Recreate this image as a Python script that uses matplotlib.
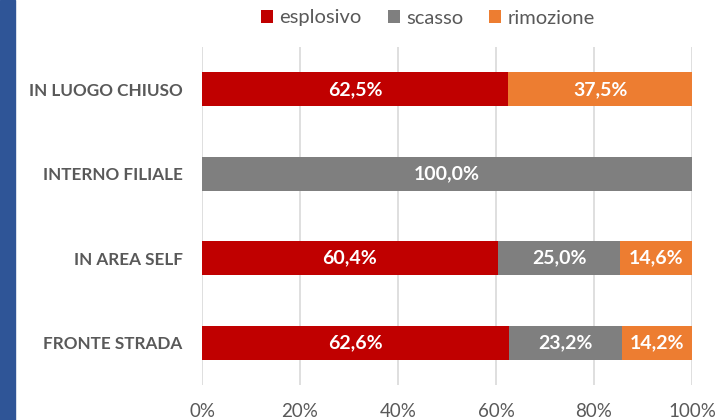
import matplotlib
matplotlib.use('Agg')
import matplotlib.pyplot as plt
from matplotlib.patches import Rectangle
import numpy as np

# Dati
categorie = ['IN LUOGO CHIUSO', 'INTERNO FILIALE', 'IN AREA SELF', 'FRONTE STRADA']
esplosivo = [62.5, 0.0, 60.4, 62.6]
scasso = [0.0, 100.0, 25.0, 23.2]
rimozione = [37.5, 0.0, 14.6, 14.2]
serie_nomi = ['esplosivo', 'scasso', 'rimozione']
colori = ['#C00000', '#7F7F7F', '#ED7D31']
tick_valori = [0, 20, 40, 60, 80, 100]

plt.rcParams['font.family'] = ['Lato', 'DejaVu Sans']

fig = plt.figure(figsize=(7.18, 4.2), dpi=100)
ax = fig.add_axes([202 / 718, 35 / 420, 490 / 718, 338 / 420])

# striscia blu a sinistra
fig.patches.append(Rectangle((0, 0), 15 / 718, 1, transform=fig.transFigure,
                             color='#2F5597', zorder=0))

y = np.arange(len(categorie))
sinistra = np.zeros(len(categorie))
for nome, valori, colore in zip(serie_nomi, [esplosivo, scasso, rimozione], colori):
    valori = np.array(valori)
    ax.barh(y, valori, left=sinistra, height=0.4, color=colore, label=nome, zorder=3)
    for yi, s, v in zip(y, sinistra, valori):
        if v > 0:
            ax.text(s + v / 2, yi, f'{v:.1f}%'.replace('.', ','), ha='center', va='center',
                    color='white', fontsize=14, fontweight='bold', zorder=4)
    sinistra += valori

ax.set_ylim(len(categorie) - 0.5, -0.5)
ax.set_xlim(0, 100)
ax.set_yticks(y)
ax.set_yticklabels(categorie, fontsize=12.3, fontweight='bold', color='#595959')
ax.set_xticks(tick_valori)
ax.set_xticklabels([f'{t}%' for t in tick_valori], fontsize=13.5, color='#595959')
ax.tick_params(axis='both', length=0)
ax.tick_params(axis='y', pad=14)
ax.tick_params(axis='x', pad=13)
ax.grid(axis='x', color='#D9D9D9', linewidth=1.2, zorder=0)
for sp in ax.spines.values():
    sp.set_visible(False)

leg = fig.legend(loc='center', bbox_to_anchor=(428 / 718, 1 - 18 / 420), ncol=3,
                 frameon=False, fontsize=14.5, handlelength=0.6, handleheight=0.6,
                 handletextpad=0.3, columnspacing=1.3)
for t in leg.get_texts():
    t.set_color('#595959')

fig.savefig('out.png', dpi=100)
